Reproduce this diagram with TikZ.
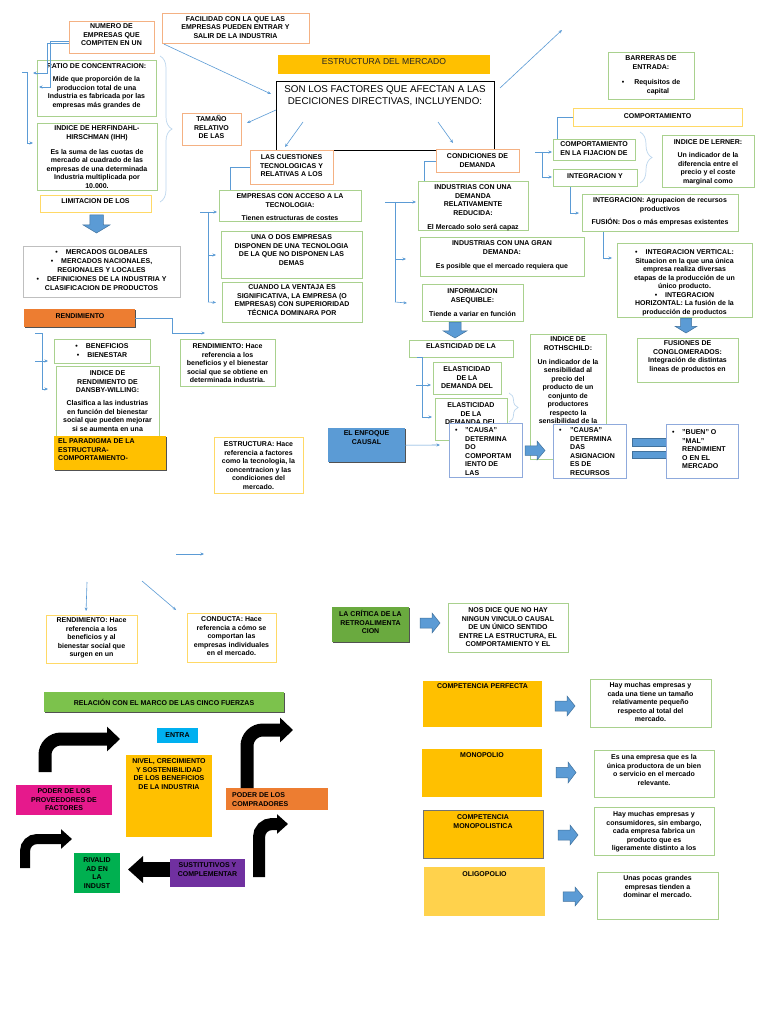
\documentclass[tikz,border=0pt]{standalone}
\usepackage{fontspec}
\setmainfont{Liberation Sans}
\usetikzlibrary{arrows.meta,decorations.pathreplacing,shadows}
\definecolor{obord}{HTML}{F4B183}
\definecolor{gbord}{HTML}{A9D18E}
\definecolor{ybord}{HTML}{FFD966}
\definecolor{bbord}{HTML}{8FAADC}
\definecolor{grbord}{HTML}{BFBFBF}
\definecolor{lblue}{HTML}{5B9BD5}
\definecolor{lbrace}{HTML}{BDD7EE}
\definecolor{gold}{HTML}{FFC000}
\definecolor{oranf}{HTML}{ED7D31}
\definecolor{greenf}{HTML}{6AAA3F}
\definecolor{relf}{HTML}{7CC24C}
\definecolor{ablue}{HTML}{5B9BD5}
\definecolor{ablued}{HTML}{41719C}
\definecolor{cyanf}{HTML}{00B0F0}
\definecolor{magf}{HTML}{E6198C}
\definecolor{rivf}{HTML}{00B050}
\definecolor{purf}{HTML}{7030A0}
\definecolor{oligf}{HTML}{FFD24C}
\tikzset{
  ob/.style={draw=obord, line width=1.1pt, fill=white},
  gb/.style={draw=gbord, line width=1.1pt, fill=white},
  yb/.style={draw=ybord, line width=1.1pt, fill=white},
  bb/.style={draw=bbord, line width=1.1pt, fill=white},
  grb/.style={draw=grbord, line width=0.9pt, fill=white},
  kb/.style={draw=black, line width=0.9pt, fill=white},
  shd/.style={drop shadow={shadow xshift=1.2pt, shadow yshift=-1.2pt, opacity=0.85, fill=black!80}},
  txt/.style={font=\fontsize{7}{8.5}\selectfont\bfseries, text=black},
  conn/.style={draw=lblue, line width=0.6pt},
  arr/.style={draw=lblue, line width=0.6pt, -{Stealth[length=3.5pt,width=3pt]}},
  brc/.style={draw=lbrace, line width=0.7pt, decorate, decoration={brace, amplitude=#1}},
}
% box with centred text: style, name, x1, y1, x2, y2, first line y, text options, text
\newcommand\bx[9]{%
  \pgfmathsetmacro\bxW{#5-#3}\pgfmathsetmacro\bxH{#6-#4}%
  \pgfmathsetmacro\bxX{(#3+#5)/2}\pgfmathsetmacro\bxY{#7-2.5}%
  \node[#1, minimum width=\bxW pt, minimum height=\bxH pt, anchor=north west, inner sep=0pt] (#2) at (#3,#4) {};
  \node[txt, anchor=north, align=center, inner sep=0pt, #8] (#2-t) at (\bxX,\bxY) {#9};%
}
% box with left text: style, name, x1, y1, x2, y2, text x, first line y, text
\newcommand\lbx[9]{%
  \pgfmathsetmacro\bxW{#5-#3}\pgfmathsetmacro\bxH{#6-#4}\pgfmathsetmacro\bxY{#8-2.5}%
  \node[#1, minimum width=\bxW pt, minimum height=\bxH pt, anchor=north west, inner sep=0pt] (#2) at (#3,#4) {};
  \node[txt, anchor=north west, align=left, inner sep=0pt] (#2-t) at (#7,\bxY) {#9};%
}
\newcommand\rblk[4]{%
  \filldraw[fill=ablue, draw=ablued, line width=0.5pt]
    ({#1},{#2+0.25*(#4-#2)}) -- ({#1+0.6*(#3-#1)},{#2+0.25*(#4-#2)}) -- ({#1+0.6*(#3-#1)},{#2})
    -- ({#3},{(#2+#4)/2}) -- ({#1+0.6*(#3-#1)},{#4}) -- ({#1+0.6*(#3-#1)},{#4-0.25*(#4-#2)})
    -- ({#1},{#4-0.25*(#4-#2)}) -- cycle;}
\newcommand\dblk[4]{%
  \filldraw[fill=ablue, draw=ablued, line width=0.5pt]
    ({#1+0.25*(#3-#1)},{#2}) -- ({#3-0.25*(#3-#1)},{#2}) -- ({#3-0.25*(#3-#1)},{#2+0.55*(#4-#2)})
    -- ({#3},{#2+0.55*(#4-#2)}) -- ({(#1+#3)/2},{#4}) -- ({#1},{#2+0.55*(#4-#2)})
    -- ({#1+0.25*(#3-#1)},{#2+0.55*(#4-#2)}) -- cycle;}
\begin{document}
\begin{tikzpicture}[x=1pt,y=-1pt]
\fill[white] (0,0) rectangle (768,1024);
\useasboundingbox (0,0) rectangle (768,1024);

% ---------- top centre ----------
\bx{fill=gold}{estm}{278}{55}{490}{74}{60.7}{font=\fontsize{8.6}{9.5}\selectfont, text=black!85}{ESTRUCTURA DEL MERCADO}
\bx{kb}{big}{276}{81}{494}{150}{88.3}{font=\fontsize{9.8}{11.6}\selectfont}{SON LOS FACTORES QUE AFECTAN A LAS\\DECICIONES DIRECTIVAS, INCLUYENDO:}
\bx{ob}{facil}{162}{13}{309}{43}{18.5}{}{FACILIDAD CON LA QUE LAS\\EMPRESAS PUEDEN ENTRAR Y\\SALIR DE LA INDUSTRIA}
\bx{ob}{tam}{182}{113}{241}{145}{118}{}{TAMAÑO\\RELATIVO\\DE LAS}

% ---------- top left ----------
\bx{ob}{numero}{69}{21}{154}{53}{26}{}{NUMERO DE\\EMPRESAS QUE\\COMPITEN EN UN}
\bx{gb}{ratio}{37}{60}{156}{116}{66}{}{RATIO DE CONCENTRACION:\\[4.5pt]Mide que proporción de la\\produccion total de una\\Industria es fabricada por las\\empresas más grandes de}
\bx{gb}{hhi}{37}{123}{157}{190}{128}{}{INDICE DE HERFINDAHL-\\HIRSCHMAN (IHH)\\[6.5pt]Es la suma de las cuotas de\\mercado al cuadrado de las\\empresas de una determinada\\Industria multiplicada por\\10.000.}
\bx{yb}{limit}{40}{195}{151}{212}{201}{}{LIMITACION DE LOS}
\dblk{83}{215}{110}{233}
\bx{grb}{merc}{23}{246}{180}{297}{252}{font=\fontsize{7}{9}\selectfont\bfseries}{\textbullet\hspace{8pt}MERCADOS GLOBALES\\\textbullet\hspace{8pt}MERCADOS NACIONALES,\\REGIONALES Y LOCALES\\\textbullet\hspace{8pt}DEFINICIONES DE LA INDUSTRIA Y\\CLASIFICACION DE PRODUCTOS}

\node[fill=oranf, shd, minimum width=111pt, minimum height=18pt, anchor=north west, inner sep=0pt] (rendbar) at (24,309) {};
\node[txt] (rendbar-t) at (80,316) {RENDIMIENTO};
\bx{gb}{benef}{54}{339}{150}{363}{346}{}{\textbullet\hspace{8pt}BENEFICIOS\\\textbullet\hspace{8pt}BIENESTAR}
\bx{gb}{dansby}{56}{366}{159}{440}{373}{}{INDICE DE\\RENDIMIENTO DE\\DANSBY-WILLING:\\[4.5pt]Clasifica a las industrias\\en función del bienestar\\social que pueden mejorar\\si se aumenta en una}
\lbx{fill=gold, shd}{parad}{54}{436}{166}{470}{58}{441}{EL PARADIGMA DE LA\\ESTRUCTURA-\\COMPORTAMIENTO-}
\bx{gb}{rend2}{180}{339}{275}{386}{346}{}{RENDIMIENTO: Hace\\referencia a los\\beneficios y el bienestar\\social que se obtiene en\\determinada industria.}
\bx{yb}{estr}{214}{437}{303}{493}{444}{}{ESTRUCTURA: Hace\\referencia a factores\\como la tecnologia, la\\concentracion y las\\condiciones del\\mercado.}
\bx{fill=ablue, shd}{enf}{328}{428}{405}{462}{433}{}{EL ENFOQUE\\CAUSAL}

% ---------- technology column ----------
\bx{ob}{cuest}{250}{150}{333}{184}{157}{}{LAS CUESTIONES\\TECNOLOGICAS Y\\RELATIVAS A LOS}
\bx{gb}{emptec}{219}{190}{361}{221}{196}{}{EMPRESAS CON ACCESO A LA\\TECNOLOGIA:\\[5pt]Tienen estructuras de costes}
\bx{gb}{unados}{221}{231}{362}{278}{237}{}{UNA O DOS EMPRESAS\\DISPONEN DE UNA TECNOLOGIA\\DE LA QUE NO DISPONEN LAS\\DEMAS}
\bx{gb}{cuando}{222}{282}{362}{322}{287}{}{CUANDO LA VENTAJA ES\\SIGNIFICATIVA, LA EMPRESA (O\\EMPRESAS) CON SUPERIORIDAD\\TÉCNICA DOMINARA POR}

% ---------- demand column ----------
\bx{ob}{cond}{436}{149}{519}{172}{156}{}{CONDICIONES DE\\DEMANDA}
\bx{gb}{indred}{418}{181}{528}{230}{187}{}{INDUSTRIAS CON UNA\\DEMANDA\\RELATIVAMENTE\\REDUCIDA:\\[5.5pt]El Mercado solo será capaz}
\bx{gb}{indgran}{420}{237}{584}{276}{243}{}{INDUSTRIAS CON UNA GRAN\\DEMANDA:\\[5.5pt]Es posible que el mercado requiera que}
\bx{gb}{info}{422}{284}{523}{321}{291}{}{INFORMACION\\ASEQUIBLE:\\[5.5pt]Tiende a variar en función}
\dblk{443}{322}{467}{338}
\bx{gb}{elast}{409}{340}{513}{357}{346}{}{ELASTICIDAD DE LA}
\bx{gb}{el1}{433}{362}{501}{394}{369}{}{ELASTICIDAD\\DE LA\\DEMANDA DEL}
\bx{gb}{el2}{435}{398}{507}{440}{405}{}{ELASTICIDAD\\DE LA\\DEMANDA DEL}
\bx{gb}{roth}{530}{334}{606}{459}{339}{}{INDICE DE\\ROTHSCHILD:\\[5.5pt]Un indicador de la\\sensibilidad al\\precio del\\producto de un\\conjunto de\\productores\\respecto  la\\sensibilidad de la}
\lbx{bb}{causa1}{449}{423}{522}{477}{455}{430}{\makebox[10pt][l]{\textbullet}"CAUSA"\\\hspace*{10pt}DETERMINA\\\hspace*{10pt}DO\\\hspace*{10pt}COMPORTAM\\\hspace*{10pt}IENTO DE\\\hspace*{10pt}LAS}
\rblk{525}{441}{545}{460}
\lbx{bb}{causa2}{553}{424}{626}{478}{559}{430}{\makebox[11pt][l]{\textbullet}"CAUSA"\\\hspace*{11pt}DETERMINA\\\hspace*{11pt}DAS\\\hspace*{11pt}ASIGNACION\\\hspace*{11pt}ES DE\\\hspace*{11pt}RECURSOS}
\filldraw[fill=ablue, draw=ablued, line width=0.5pt] (632,438) rectangle (666,446);
\filldraw[fill=ablue, draw=ablued, line width=0.5pt] (632,451) rectangle (666,458);
\lbx{bb}{buen}{666}{424}{738}{478}{672}{432}{\makebox[10pt][l]{\textbullet}"BUEN" O\\\hspace*{10pt}"MAL"\\\hspace*{10pt}RENDIMIENT\\\hspace*{10pt}O EN EL\\\hspace*{10pt}MERCADO}

% ---------- right column ----------
\bx{gb}{barr}{608}{52}{694}{99}{58}{}{BARRERAS DE\\ENTRADA:\\[7pt]\textbullet\hspace{10pt}Requisitos de\\\hspace*{14pt}capital}
\bx{yb}{comp}{573}{108}{742}{126}{116}{}{COMPORTAMIENTO}
\bx{gb}{compfij}{553}{139}{635}{160}{144}{}{COMPORTAMIENTO\\EN LA FIJACION DE}
\bx{gb}{intfus}{553}{169}{637}{186}{176}{}{INTEGRACION Y}
\bx{gb}{lerner}{662}{135}{754}{187}{142}{}{INDICE DE LERNER:\\[4.5pt]Un indicador de la\\diferencia entre el\\precio y el coste\\marginal como}
\bx{gb}{integ}{582}{194}{738}{231}{200}{}{INTEGRACION: Agrupacion de recursos\\productivos\\[4.5pt]FUSIÓN: Dos o más empresas existentes}
\bx{gb}{intvert}{617}{243}{752}{317}{252}{}{\textbullet\hspace{8pt}INTEGRACION VERTICAL:\\Situacion en la que una única\\empresa realiza diversas\\etapas de la producción de un\\único producto.\\\textbullet\hspace{8pt}INTEGRACION\\HORIZONTAL: La fusión de la\\producción de productos}
\dblk{675}{318}{697}{333}
\bx{gb}{fuscon}{637}{338}{738}{382}{343}{}{FUSIONES DE\\CONGLOMERADOS:\\Integración de distintas\\lineas de productos en}

% ---------- lower half ----------
\bx{yb}{rend3}{46}{615}{137}{663}{620}{}{RENDIMIENTO: Hace\\referencia a los\\beneficios y al\\bienestar social que\\surgen en un}
\bx{yb}{conducta}{187}{613}{276}{662}{619}{}{CONDUCTA: Hace\\referencia a cómo se\\comportan las\\empresas individuales\\en el mercado.}
\bx{fill=greenf, shd}{crit}{332}{607}{409}{642}{613}{}{LA CRÍTICA DE LA\\RETROALIMENTA\\CION}
\rblk{420}{613}{440}{633}
\bx{gb}{nos}{448}{603}{568}{652}{610}{}{NOS DICE QUE NO HAY\\NINGUN VINCULO CAUSAL\\DE UN ÚNICO SENTIDO\\ENTRE LA ESTRUCTURA, EL\\COMPORTAMIENTO Y EL}

\bx{fill=gold}{cp}{423}{681}{542}{727}{686}{}{COMPETENCIA PERFECTA}
\rblk{555}{696}{575}{716}
\bx{gb}{hay1}{590}{679}{711}{727}{685}{}{Hay muchas empresas y\\cada una tiene un tamaño\\relativamente pequeño\\respecto al total del\\mercado.}
\bx{fill=gold}{mono}{422}{749}{542}{797}{755}{}{MONOPOLIO}
\rblk{556}{762}{576}{783}
\bx{gb}{esuna}{594}{750}{714}{797}{757}{}{Es una empresa que es la\\única productora de un bien\\o servicio en el mercado\\relevante.}
\bx{fill=gold, draw=black!55, line width=0.6pt}{cm}{423}{810}{543}{858}{817}{}{COMPETENCIA\\MONOPOLISTICA}
\rblk{558}{825}{578}{845}
\bx{gb}{hay2}{594}{807}{714}{855}{814}{}{Hay muchas empresas y\\consumidores, sin embargo,\\cada empresa fabrica un\\producto que es\\ligeramente distinto a los}
\bx{fill=oligf}{oligo}{424}{867}{545}{916}{874}{}{OLIGOPOLIO}
\rblk{563}{887}{583}{906}
\bx{gb}{unas}{597}{872}{718}{919}{878}{}{Unas pocas grandes\\empresas tienden a\\dominar el mercado.}

% ---------- five forces ----------
\bx{fill=relf, shd}{rel}{44}{692}{284}{712}{702}{}{RELACIÓN CON EL MARCO DE LAS CINCO FUERZAS}
\bx{fill=cyanf}{entra}{157}{728}{198}{743}{735}{}{ENTRA}
\bx{fill=gold}{nivel}{126}{755}{212}{837}{761}{}{NIVEL, CRECIMIENTO\\Y SOSTENIBILIDAD\\DE LOS BENEFICIOS\\DE LA INDUSTRIA}
\bx{fill=magf}{prov}{16}{785}{112}{815}{791}{}{PODER DE LOS\\PROVEEDORES DE\\FACTORES}
\lbx{fill=oranf}{compr}{226}{788}{328}{810}{232}{795}{PODER DE LOS\\COMPRADORES}
\bx{fill=rivf}{rival}{74}{853}{120}{893}{860}{}{RIVALID\\AD EN\\LA\\INDUST}
\bx{fill=purf}{sust}{170}{859}{245}{887}{865}{}{SUSTITUTIVOS Y\\COMPLEMENTAR}

\draw[black, line width=13pt, rounded corners=16pt, -{Triangle[length=13pt,width=24pt]}] (45,772) -- (45,739) -- (120,739);
\draw[black, line width=13pt, rounded corners=16pt, -{Triangle[length=13pt,width=24pt]}] (247,788) -- (247,730) -- (293,730);
\draw[black, line width=10pt, rounded corners=12pt, -{Triangle[length=11pt,width=19pt]}] (25,868) -- (25,839) -- (72,839);
\draw[black, line width=12pt, rounded corners=13pt, -{Triangle[length=11pt,width=19pt]}] (259,877) -- (259,824) -- (288,824);
\draw[black, line width=15pt, -{Triangle[length=15pt,width=26pt]}] (sust.west |- 0,869.5) -- (128,869.5);

% ---------- connectors ----------
\coordinate (pFB) at (271,94);
\coordinate (pTam) at (247,123);
\coordinate (pC1) at (303,122);
\coordinate (pC2) at (285,147);
\coordinate (pD1) at (438,122);
\coordinate (pD2) at (453,143);
\coordinate (pU1) at (500,88);
\coordinate (pU2) at (562,30);
\draw[arr] ([xshift=2pt]facil.south west) -- (pFB);
\draw[arr] ([yshift=-29pt]big.north west) -- (pTam);
\draw[arr] (pC1) -- (pC2);
\draw[arr] (pD1) -- (pD2);
\draw[arr] (pU1) -- (pU2);

\coordinate (pN1) at (39,87);
\coordinate (pN2) at (33,73);
\draw[arr] ([yshift=-4pt]numero.west) -- ++(-19,0) |- (pN1);
\draw[arr] ([yshift=-6pt]numero.west) -- ++(-22,0) |- (pN2);
\coordinate (pL0) at (22,72);
\coordinate (pL1) at (33,143);
\draw[arr] (pL0) -- (27,72) |- (pL1);

\coordinate (pR2) at (205,333);
\draw[arr] (rendbar.east) -- ++(37,0) |- (pR2);
\coordinate (pB0) at (35,333);
\coordinate (pB1) at (48,389);
\coordinate (pB2a) at (35,361);
\coordinate (pB2b) at (48,361);
\draw[arr] (pB0) -- (42,333) |- (pB1);
\draw[arr] (pB2a) -- (pB2b);

\draw[conn] (cuest.west) -| ([xshift=11pt]emptec.north west);
\coordinate (pT0) at (200,212);
\draw[arr] (pT0) -- (217,212);
\draw[conn] (208,212) -- (208,302);
\draw[arr] (208,255) -- ([xshift=-5pt]unados.west |- 0,255);
\draw[arr] (208,302) -- ([xshift=-6pt]cuando.west);

\draw[conn] (cond.west) -| ([xshift=6pt]indred.north west);
\coordinate (pE0) at (385,202);
\draw[arr] (pE0) -- ([xshift=-2pt]indred.west |- 0,202);
\draw[conn] (395,202) -- (395,302);
\draw[arr] (395,259) -- ([xshift=-14pt]indgran.west |- 0,259);
\draw[arr] (395,302) -- ([xshift=-15pt]info.west);

\draw[conn] (417,357) -- (422,357) -- (422,417);
\draw[arr] (422,417) -- ([xshift=-3pt]el2.west |- 0,417);
\draw[arr] (416,385) -- ([xshift=-2pt]el1.west |- 0,385);
\coordinate (pEn) at (440,445);
\draw[arr] (enf.east) -- (pEn);

\draw[conn] (comp.west) -| ([xshift=4pt]compfij.north west);
\coordinate (pF0) at (535,152);
\draw[arr] (pF0) -- ([xshift=-1pt]compfij.west |- 0,152);
\draw[conn] (542,152) -- (542,177);
\draw[arr] (542,177) -- ([xshift=-1pt]intfus.west |- 0,177);
\draw[arr] ([xshift=17pt]intfus.south west) |- ([xshift=-3pt]integ.west);
\coordinate (pIV) at (612,258);
\draw[arr] ([xshift=21pt]integ.south west) |- (pIV);

\draw[brc=12pt] (160,56) -- (160,202);
\draw[brc=12pt] (640,132) -- (640,183);
\draw[brc=9pt] (509,393) -- (509,422);

\coordinate (pX1) at (176,554);
\coordinate (pX2) at (204,554);
\draw[arr] (pX1) -- (pX2);
\coordinate (pY1) at (87,582);
\draw[arr] (pY1) -- ([xshift=-6pt,yshift=4pt]rend3.north);
\coordinate (pZ1) at (142,581);
\draw[arr] (pZ1) -- ([xshift=-56pt,yshift=3pt]conducta.north);
\end{tikzpicture}
\end{document}
